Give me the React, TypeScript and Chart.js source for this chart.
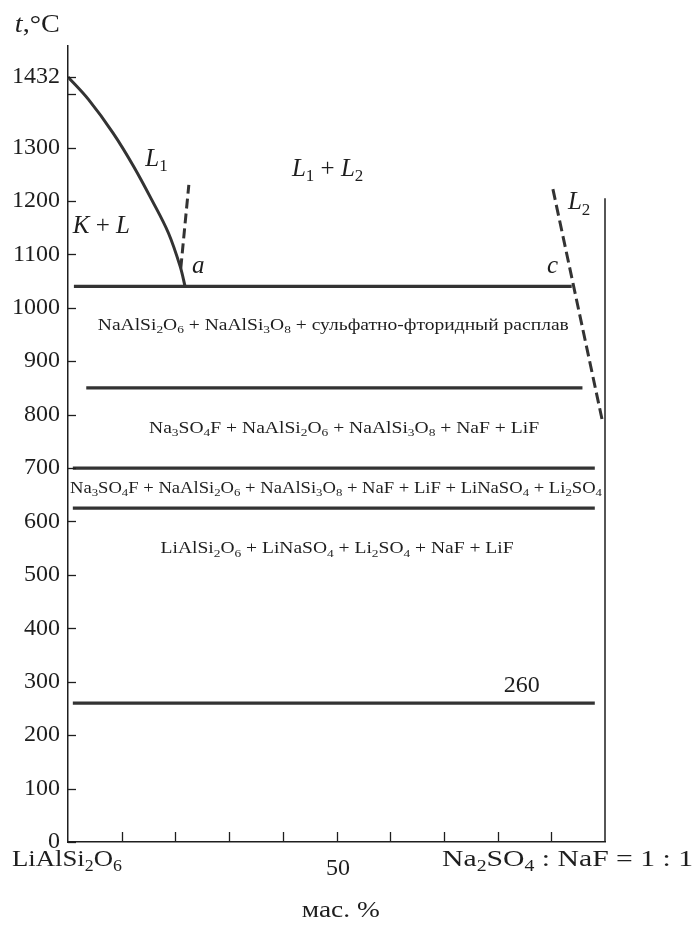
import React, { useEffect, useRef } from "react";
import { Chart, registerables } from "chart.js";

Chart.register(...registerables);

const SERIF = '"Liberation Serif", "Times New Roman", Times, serif';
const INK = "#1e1e1e";
const LINE = "#333333";

// Liquidus of the aluminosilicate-rich melt (L1): mass % vs °C
const l1Composition = [0, 3.8, 8.4, 12.2, 15.6, 18.7, 20.9, 21.8];
const l1Temperature = [1432, 1390, 1327, 1265, 1202, 1140, 1077, 1040];

// Metastable branch rising from point a
const aBranchComposition = [21.0, 22.5];
const aBranchTemperature = [1074, 1230];

// Liquidus of the sulfate-fluoride melt (L2)
const l2Composition = [90.3, 99.6];
const l2Temperature = [1222, 784];

// Horizontal phase boundaries
const isothermTemperature = [1040, 850, 700, 625, 260];
const isothermStart = [1.1, 3.4, 0.9, 0.9, 0.9];
const isothermEnd = [93.8, 95.8, 98.1, 98.1, 98.1];

// Right edge of the diagram (Na2SO4 : NaF = 1 : 1 side)
const rightEdgeComposition = [100, 100];
const rightEdgeTemperature = [0, 1205];

// Axis ticks
const yTickValues = [0, 100, 200, 300, 400, 500, 600, 700, 800, 900, 1000, 1100, 1200, 1300, 1400, 1432];
const yTickUnlabelled = [1400];
const xTickValues = [10, 20, 30, 40, 50, 60, 70, 80, 90];

// Text: "*" toggles italic, "_n" is a subscript
type Label = { text: string; x: number; y: number; size: number; align: CanvasTextAlign; width?: number };
const labels: Label[] = [
  { text: "*t*,°C", x: -9.9, y: 1517, size: 25, align: "left", width: 45 },
  { text: "*L*_1", x: 14.4, y: 1266, size: 25, align: "left" },
  { text: "*K* + *L*", x: 0.9, y: 1140, size: 25, align: "left" },
  { text: "*a*", x: 23.1, y: 1065, size: 25, align: "left" },
  { text: "*L*_1 + *L*_2", x: 41.7, y: 1247, size: 25, align: "left" },
  { text: "*L*_2", x: 93.1, y: 1184, size: 25, align: "left" },
  { text: "*c*", x: 89.2, y: 1065, size: 25, align: "left" },
  { text: "NaAlSi_2O_6 + NaAlSi_3O_8 + сульфатно-фторидный расплав", x: 49.4, y: 959, size: 16, align: "center", width: 471 },
  { text: "Na_3SO_4F + NaAlSi_2O_6 + NaAlSi_3O_8 + NaF + LiF", x: 51.4, y: 766, size: 16, align: "center", width: 390 },
  { text: "Na_3SO_4F + NaAlSi_2O_6 + NaAlSi_3O_8 + NaF + LiF + LiNaSO_4 + Li_2SO_4", x: 49.9, y: 654, size: 16, align: "center", width: 532 },
  { text: "LiAlSi_2O_6 + LiNaSO_4 + Li_2SO_4 + NaF + LiF", x: 50.1, y: 541, size: 16, align: "center", width: 353 },
  { text: "260", x: 84.5, y: 280, size: 24, align: "center" },
  { text: "LiAlSi_2O_6", x: -0.2, y: -45, size: 24, align: "center", width: 110 },
  { text: "50", x: 50.3, y: -62, size: 24, align: "center" },
  { text: "Na_2SO_4 : NaF = 1 : 1", x: 116.4, y: -45, size: 24, align: "right", width: 251 },
  { text: "мас. %", x: 50.8, y: -140, size: 24, align: "center", width: 78 },
];

type Run = { t: string; italic: boolean; sub: boolean };

function parseRuns(s: string): Run[] {
  const runs: Run[] = [];
  let italic = false;
  let buf = "";
  const flush = () => {
    if (buf) runs.push({ t: buf, italic, sub: false });
    buf = "";
  };
  let i = 0;
  while (i < s.length) {
    const ch = s[i];
    if (ch === "*") {
      flush();
      italic = !italic;
      i++;
      continue;
    }
    if (ch === "_") {
      flush();
      let j = i + 1;
      let d = "";
      while (j < s.length && /\d/.test(s[j])) {
        d += s[j];
        j++;
      }
      runs.push({ t: d, italic, sub: true });
      i = j;
      continue;
    }
    buf += ch;
    i++;
  }
  flush();
  return runs;
}

function fontFor(r: Run, size: number) {
  return `${r.italic ? "italic " : ""}${r.sub ? Math.round(size * 0.68) : size}px ${SERIF}`;
}

function drawRich(ctx: CanvasRenderingContext2D, text: string, x: number, y: number, size: number, align: CanvasTextAlign, width?: number) {
  const runs = parseRuns(text);
  const widths = runs.map((r) => {
    ctx.font = fontFor(r, size);
    return ctx.measureText(r.t).width;
  });
  const natural = widths.reduce((a, b) => a + b, 0);
  const sx = width ? width / natural : 1;
  const total = natural * sx;
  const left = align === "center" ? x - total / 2 : align === "right" ? x - total : x;
  ctx.save();
  ctx.translate(left, y);
  ctx.scale(sx, 1);
  ctx.fillStyle = INK;
  ctx.textAlign = "left";
  ctx.textBaseline = "alphabetic";
  let cx = 0;
  runs.forEach((r, i) => {
    ctx.font = fontFor(r, size);
    ctx.fillText(r.t, cx, r.sub ? size * 0.22 : 0);
    cx += widths[i];
  });
  ctx.restore();
}

const decorPlugin = {
  id: "diagramDecor",
  afterDraw(chart: any) {
    const { ctx } = chart;
    const xs = chart.scales.x;
    const ys = chart.scales.y;
    const x0 = xs.getPixelForValue(0);
    const y0 = ys.getPixelForValue(0);
    ctx.save();
    ctx.strokeStyle = INK;
    ctx.lineWidth = 1.3;
    // inward tick marks
    yTickValues.forEach((v) => {
      const py = Math.round(ys.getPixelForValue(v)) + 0.5;
      ctx.beginPath();
      ctx.moveTo(x0, py);
      ctx.lineTo(x0 + 8, py);
      ctx.stroke();
    });
    xTickValues.forEach((v) => {
      const px = Math.round(xs.getPixelForValue(v)) + 0.5;
      ctx.beginPath();
      ctx.moveTo(px, y0);
      ctx.lineTo(px, y0 - 10);
      ctx.stroke();
    });
    labels.forEach((l) => drawRich(ctx, l.text, xs.getPixelForValue(l.x), ys.getPixelForValue(l.y), l.size, l.align, l.width));
    ctx.restore();
  },
};

const toPoints = (xs: number[], ys: number[]) => xs.map((x, i) => ({ x, y: ys[i] }));

export default function App() {
  const canvasRef = useRef<HTMLCanvasElement | null>(null);

  useEffect(() => {
    let chart: Chart | null = null;
    let cancelled = false;

    const build = () => {
      if (cancelled || !canvasRef.current) return;
      const base = { pointRadius: 0, borderColor: LINE, fill: false, clip: false as const };
      const datasets: any[] = [
        { ...base, data: toPoints(l1Composition, l1Temperature), borderWidth: 3, tension: 0.35 },
        { ...base, data: toPoints(aBranchComposition, aBranchTemperature), borderWidth: 3, borderDash: [10, 5] },
        { ...base, data: toPoints(l2Composition, l2Temperature), borderWidth: 3, borderDash: [11, 5] },
        ...isothermTemperature.map((t, i) => ({
          ...base,
          data: [
            { x: isothermStart[i], y: t },
            { x: isothermEnd[i], y: t },
          ],
          borderWidth: 3.2,
        })),
        { ...base, data: toPoints(rightEdgeComposition, rightEdgeTemperature), borderWidth: 1.5, borderColor: INK },
      ];

      chart = new Chart(canvasRef.current, {
        type: "line",
        data: { datasets },
        options: {
          animation: false,
          responsive: true,
          maintainAspectRatio: false,
          devicePixelRatio: 1,
          layout: { padding: { left: 0, right: 90, top: 46, bottom: 0 } },
          plugins: { legend: { display: false }, tooltip: { enabled: false } },
          scales: {
            x: {
              type: "linear",
              min: 0,
              max: 100,
              grid: { display: false, drawTicks: false },
              border: { display: true, color: INK, width: 1.5 },
              ticks: { display: false, stepSize: 10 },
              afterFit: (s: any) => {
                s.height = 84;
              },
            },
            y: {
              type: "linear",
              min: 0,
              max: 1490,
              grid: { display: false, drawTicks: false },
              border: { display: true, color: INK, width: 1.5 },
              afterBuildTicks: (s: any) => {
                s.ticks = yTickValues.map((v) => ({ value: v }));
              },
              ticks: {
                padding: 8,
                color: INK,
                font: { family: SERIF, size: 24 },
                callback: (v: any) => (yTickUnlabelled.includes(Number(v)) ? "" : String(v)),
              },
              afterFit: (s: any) => {
                s.width = 68;
              },
            },
          },
        },
        plugins: [decorPlugin],
      });
    };

    const fonts: any = (document as any).fonts;
    const ready = fonts
      ? Promise.all([
          fonts.load('24px "Liberation Serif"'),
          fonts.load('italic 24px "Liberation Serif"'),
          fonts.load('16px "Liberation Serif"', "сульфатно"),
        ]).catch(() => undefined)
      : Promise.resolve();
    ready.then(build);

    return () => {
      cancelled = true;
      if (chart) chart.destroy();
    };
  }, []);

  return (
    <div style={{ position: "fixed", left: 0, top: 0, width: 695, height: 926, background: "#fff" }}>
      <canvas ref={canvasRef} />
    </div>
  );
}
